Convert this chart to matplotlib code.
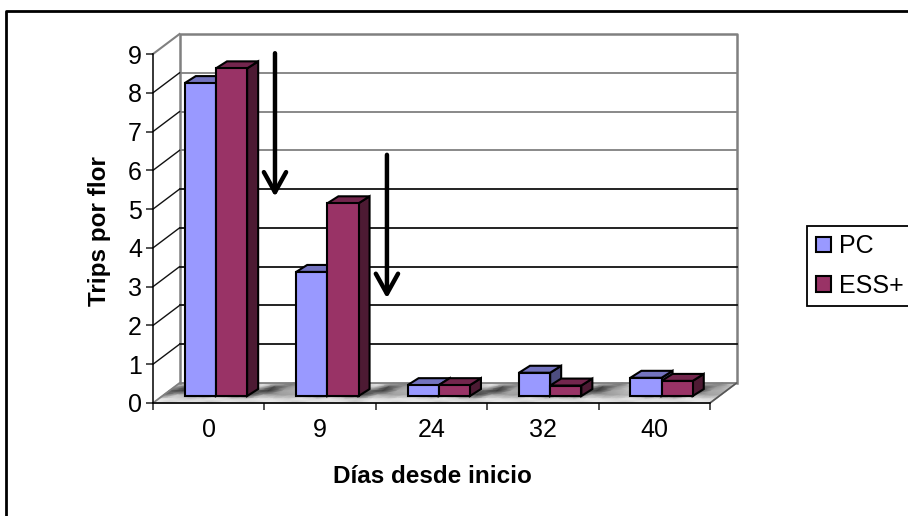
import numpy as np
import matplotlib
matplotlib.use('Agg')
import matplotlib.pyplot as plt
from matplotlib.patches import Polygon, Rectangle, Patch

plt.rcParams['font.family'] = ['Liberation Sans', 'DejaVu Sans']

dias = ['0', '9', '24', '32', '40']
pc = [8.07, 3.2, 0.28, 0.6, 0.47]
ess = [8.45, 4.97, 0.28, 0.27, 0.39]
y_ticks = [0, 1, 2, 3, 4, 5, 6, 7, 8, 9]

color_pc = '#9999ff'
color_pc_top = '#7373bf'
color_pc_side = '#4d4d80'
color_ess = '#993366'
color_ess_top = '#73264d'
color_ess_side = '#4d1a33'

# marble floor, gray levels read by eye (back row first)
floor_gray = [
    [200, 215, 120, 200, 225, 190, 230, 210, 110, 205, 230, 195, 225, 210, 235, 190, 120, 215, 230, 195, 225, 205, 235, 215, 125, 200, 230, 190, 225, 210, 205, 110, 220, 235, 195, 225, 210, 190, 125, 215],
    [170, 70, 150, 185, 205, 165, 215, 75, 140, 190, 215, 170, 205, 185, 215, 75, 150, 195, 210, 170, 205, 185, 215, 80, 150, 185, 210, 165, 205, 190, 70, 140, 200, 215, 170, 205, 185, 85, 150, 195],
    [90, 60, 175, 150, 190, 150, 90, 55, 165, 175, 195, 130, 190, 170, 90, 60, 170, 180, 195, 140, 190, 170, 95, 55, 170, 170, 195, 135, 190, 90, 55, 165, 185, 200, 135, 190, 90, 60, 170, 180],
    [110, 195, 165, 130, 175, 110, 75, 170, 155, 165, 175, 100, 175, 105, 70, 175, 160, 170, 180, 115, 175, 100, 70, 170, 160, 155, 175, 105, 115, 70, 175, 155, 170, 185, 110, 105, 70, 175, 160, 170],
    [235, 225, 205, 220, 235, 215, 210, 235, 225, 210, 235, 215, 235, 210, 205, 230, 220, 235, 225, 215, 235, 210, 200, 235, 225, 215, 235, 210, 220, 205, 235, 225, 215, 235, 215, 225, 205, 235, 225, 215],
    [240, 205, 240, 225, 185, 240, 225, 200, 240, 230, 190, 240, 220, 240, 195, 235, 240, 205, 235, 240, 190, 240, 225, 200, 240, 235, 190, 240, 225, 240, 205, 240, 230, 190, 240, 225, 240, 200, 240, 230],
]

fig = plt.figure(figsize=(9.08, 5.16), dpi=100)
ax = fig.add_axes([153 / 908, 1 - 403 / 516, 557 / 908, 349 / 516])
ax.set_xlim(0, 5)
ax.set_ylim(0, 9)
ax.patch.set_alpha(0)

# depth of the walls and of the bars, in data units
wall_dx, wall_dy = 0.238, 0.515
bar_dx, bar_dy = 0.099, 0.18
bar_w = 0.28
bar_start = 0.285

# floor, a sheared mesh so it fits the parallelogram
gray = np.array(floor_gray, dtype=float)
n_rows, n_cols = gray.shape
depth = np.linspace(1, 0, n_rows)[:, None]
across = np.linspace(0, 5, n_cols)[None, :]
floor_x = across + depth * wall_dx
floor_y = depth * wall_dy * np.ones_like(floor_x)
ax.pcolormesh(floor_x, floor_y, gray, cmap='gray', vmin=0, vmax=255, shading='gouraud',
              zorder=0.9, clip_on=False, rasterized=True)
ax.add_patch(Polygon([(0, 0), (wall_dx, wall_dy), (5 + wall_dx, wall_dy), (5, 0)],
                     closed=True, facecolor='none', edgecolor='#808080', lw=1.3,
                     clip_on=False, zorder=1))
ax.set_xlim(0, 5)
ax.set_ylim(0, 9)

# back wall and side wall
ax.plot([wall_dx, wall_dx, 5 + wall_dx, 5 + wall_dx],
        [wall_dy, 9 + wall_dy, 9 + wall_dy, wall_dy],
        color='#808080', lw=1.8, clip_on=False, zorder=1)
ax.plot([0, wall_dx], [9, 9 + wall_dy], color='#808080', lw=1.5, clip_on=False, zorder=1)
for v in y_ticks[1:-1]:
    c = '#808080' if v >= 6 else '#111111'
    ax.plot([wall_dx, 5 + wall_dx], [v + wall_dy, v + wall_dy], color=c,
            lw=1.3, clip_on=False, zorder=1)
    ax.plot([0, wall_dx], [v, v + wall_dy], color='#111111', lw=1.0, clip_on=False, zorder=1)
ax.plot([5, 5 + wall_dx], [0, wall_dy], color='#555555', lw=1.0, clip_on=False, zorder=1)


def bar3d(x0, val, front, top, side, z):
    x1 = x0 + bar_w
    b = bar_dy
    t = bar_dy + val
    ax.add_patch(Polygon([(x1, b), (x1 + bar_dx, b + bar_dy), (x1 + bar_dx, t + bar_dy), (x1, t)],
                         facecolor=side, edgecolor='black', lw=1.5, zorder=z, clip_on=False))
    ax.add_patch(Polygon([(x0, t), (x0 + bar_dx, t + bar_dy), (x1 + bar_dx, t + bar_dy), (x1, t)],
                         facecolor=top, edgecolor='black', lw=1.5, zorder=z, clip_on=False))
    ax.bar(x0, val, width=bar_w, bottom=b, align='edge', color=front, edgecolor='black',
           lw=1.5, zorder=z + 0.1, clip_on=False)


for i in range(len(dias)):
    bar3d(i + bar_start, pc[i], color_pc, color_pc_top, color_pc_side, 3 + i)
    bar3d(i + bar_start + bar_w, ess[i], color_ess, color_ess_top, color_ess_side, 3.5 + i)

# arrows
for x, y0, y1 in [(1.095, 9.02, 5.32), (2.10, 6.4, 2.70)]:
    ax.annotate('', xy=(x, y1), xytext=(x, y0),
                arrowprops=dict(arrowstyle='->,head_length=0.9,head_width=0.5', lw=3.2,
                                color='black', shrinkA=0, shrinkB=0, mutation_scale=16),
                annotation_clip=False, zorder=20)

ax.set_xticks(np.arange(0, 6))
ax.set_xticklabels([])
ax.set_xticks(np.arange(len(dias)) + 0.5, minor=True)
ax.set_xticklabels(dias, minor=True, fontsize=18)
ax.tick_params(axis='x', which='major', length=5, width=1.1, color='#222222')
ax.tick_params(axis='x', which='minor', length=0, pad=11)
ax.set_yticks(y_ticks)
ax.tick_params(axis='y', length=5, width=1.1, color='#222222', labelsize=18, pad=3)

for s in ['top', 'right']:
    ax.spines[s].set_visible(False)
for s in ['left', 'bottom']:
    ax.spines[s].set_linewidth(1.1)
    ax.spines[s].set_zorder(2)

ax.set_xlabel('Días desde inicio', fontsize=17.5, fontweight='bold')
ax.xaxis.set_label_coords(279 / 557, -62 / 349)
ax.set_ylabel('Trips por flor', fontsize=17.5, fontweight='bold')
ax.yaxis.set_label_coords(-42 / 557, 172 / 349)

# legend box runs past the right edge
fig.add_artist(Rectangle((807 / 908, 1 - 306 / 516), 110 / 908, 80 / 516, transform=fig.transFigure,
                         facecolor='white', edgecolor='black', lw=1.3))
leg = fig.legend(handles=[Patch(facecolor=color_pc, edgecolor='black', lw=1.5, label='PC'),
                          Patch(facecolor=color_ess, edgecolor='black', lw=1.5, label='ESS+')],
                 loc='center left', bbox_to_anchor=(813 / 908, 1 - 266 / 516), frameon=False,
                 fontsize=18, handlelength=0.6, handleheight=0.6, handletextpad=0.35,
                 labelspacing=0.62, borderpad=0.1, borderaxespad=0)

# outer chart frame, only left and top show
fig.add_artist(plt.Line2D([6 / 908, 6 / 908, 1], [0, 1 - 11 / 516, 1 - 11 / 516],
                          transform=fig.transFigure, color='black', lw=2))

fig.savefig('out.png', dpi=100)
